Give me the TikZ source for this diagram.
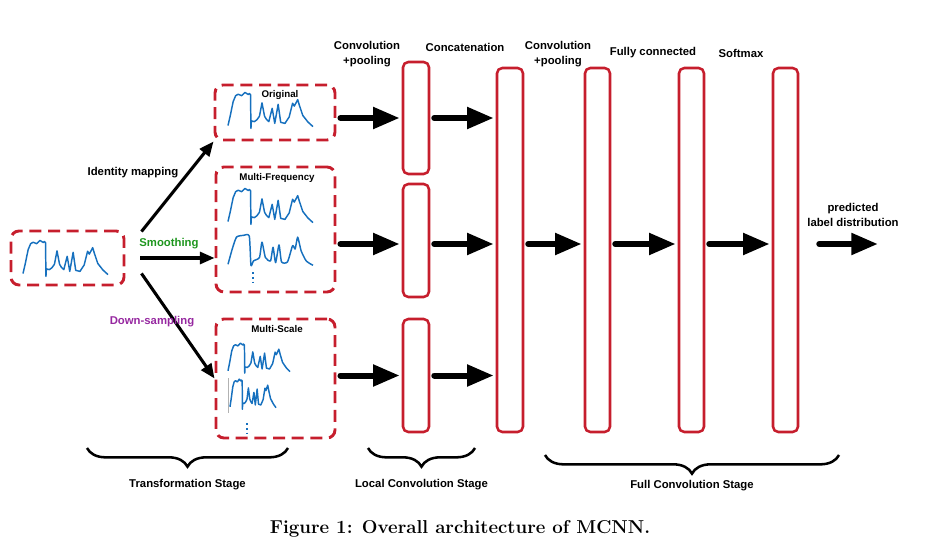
\documentclass[tikz,border=0pt]{standalone}
\usepackage{fontspec}
\setsansfont{Liberation Sans}
\usetikzlibrary{arrows.meta, positioning, fit, calc, decorations.pathreplacing}

\definecolor{boxred}{RGB}{198,30,45}
\definecolor{waveblue}{RGB}{22,112,190}
\definecolor{smoothgreen}{RGB}{30,150,30}
\definecolor{downpurple}{RGB}{150,40,160}

\tikzset{
  dashbox/.style={draw=boxred, line width=2.2pt, dash pattern=on 9pt off 5pt, rounded corners=6pt, inner sep=0pt},
  layer/.style={draw=boxred, line width=1.9pt, rounded corners=4pt, inner sep=0pt},
  wave/.style={draw=waveblue, line width=1.1pt, line join=round},
  flow/.style={line width=4.5pt, line cap=round, shorten <=3pt, shorten >=1.5pt, -{Triangle[length=20pt,width=15.5pt]}},
  branch/.style={line width=2.3pt, -{Triangle[length=11pt,width=9pt]}},
  lbl/.style={font=\sffamily\bfseries\fontsize{8.5}{11}\selectfont, align=center, inner sep=0.75pt},
  boxlbl/.style={font=\sffamily\bfseries\fontsize{7.3}{9}\selectfont, inner sep=0.75pt},
  stagebrace/.style={decorate, decoration={brace, mirror, amplitude=14pt}, line width=1.9pt}
}

% raw signal: x, y of the bottom left, width, height
\newcommand{\rawwave}[4]{%
  \begin{scope}[shift={(#1,#2)}, xscale=#3, yscale=-#4]
    \draw[wave] (0,0.04) -- (0.03,0.35) -- (0.06,0.7) -- (0.09,0.87) -- (0.12,0.91) -- (0.16,0.87) -- (0.2,0.96) -- (0.24,0.9) -- (0.25,0.93) -- (0.265,0.9) -- (0.27,-0.04) -- (0.275,0.17) -- (0.31,0.15) -- (0.34,0.2) -- (0.37,0.3) -- (0.4,0.67) -- (0.43,0.3) -- (0.45,0.22) -- (0.48,0.15) -- (0.52,0.52) -- (0.55,0.1) -- (0.59,0.63) -- (0.62,0.13) -- (0.67,0.1) -- (0.72,0.28) -- (0.76,0.66) -- (0.78,0.58) -- (0.82,0.76) -- (0.84,0.6) -- (0.88,0.32) -- (0.94,0.14) -- (1,0.01) ;
  \end{scope}}
% smoothed signal
\newcommand{\smoothwave}[4]{%
  \begin{scope}[shift={(#1,#2)}, xscale=#3, yscale=-#4]
    \draw[wave] plot[smooth, tension=0.35] coordinates {(0,0.05) (0.05,0.5) (0.1,0.85) (0.18,0.9) (0.25,0.88) (0.27,0.02) (0.3,0.15) (0.37,0.25) (0.4,0.7) (0.44,0.25) (0.5,0.15) (0.53,0.55) (0.56,0.1) (0.6,0.62) (0.63,0.12) (0.7,0.12) (0.76,0.6) (0.79,0.5) (0.82,0.85) (0.86,0.45) (0.92,0.15) (1,0.02)} ;
  \end{scope}}

\begin{document}
\begin{tikzpicture}[x=0.75pt,y=0.75pt,yscale=-1,xscale=1]
\path[use as bounding box] (0,0) rectangle (925,549);

%Shape: Dashed Boxes
\node[dashbox, fit={(11,231) (124,285)}] (inp) {};
\node[dashbox, fit={(215,85) (335,140)}] (orig) {};
\node[dashbox, fit={(216,167) (335,292)}] (multifreq) {};
\node[dashbox, fit={(216,319) (335,438)}] (multiscale) {};

%Shape: Signals
\rawwave{23}{275}{85}{36}
\rawwave{228}{127}{85}{36}
\rawwave{228}{223}{85}{36}
\smoothwave{228}{266}{85}{34}
\rawwave{228}{372}{62}{30}
\rawwave{230}{408}{46}{30}
\draw[gray!60, line width=0.5pt] (228.5,378) -- (228.5,413) ;
\draw[wave, line width=1.4pt, dash pattern=on 1.4pt off 2.2pt] (253,272) -- (253,284) ;
\draw[wave, line width=1.4pt, dash pattern=on 1.4pt off 2.2pt] (247,423) -- (247,435) ;

%Shape: Layers
\node[layer, fit={(403,62) (429,174)}] (conv1) {};
\node[layer, fit={(403,184) (429,297)}] (conv2) {};
\node[layer, fit={(403,319) (429,432)}] (conv3) {};
\node[layer, fit={(497,68) (523,432)}] (concat) {};
\node[layer, fit={(585,68) (610,432)}] (pool) {};
\node[layer, fit={(679,68) (704,432)}] (fc) {};
\node[layer, fit={(773,68) (798,432)}] (softmax) {};
\coordinate (out) at (880,244);

%Straight Lines
\draw[branch] ($(inp.north east)+(16,2)$) -- (orig.south west) ;
\draw[branch, shorten <=11pt] (inp.east) -- (inp.east -| multifreq.west) ;
\draw[branch] ($(inp.south east)+(16,-13)$) -- (multiscale.west) ;

\draw[flow] (orig.east |- conv1) -- (conv1.west) ;
\draw[flow] (conv1.east) -- (concat.west |- conv1) ;
\draw[flow] (multifreq.east |- out) -- (conv2.west |- out) ;
\draw[flow] (conv2.east |- out) -- (concat.west |- out) ;
\draw[flow] (multiscale.east |- conv3) -- (conv3.west) ;
\draw[flow] (conv3.east) -- (concat.west |- conv3) ;
\draw[flow] (concat.east |- out) -- (pool.west |- out) ;
\draw[flow] (pool.east |- out) -- (fc.west |- out) ;
\draw[flow] (fc.east |- out) -- (softmax.west |- out) ;
\draw[flow, shorten <=15pt] (softmax.east |- out) -- (out) ;

%Braces
\draw[stagebrace] (87,448) -- (288,448) node[midway, below=22pt, lbl] (transstage) {Transformation Stage};
\draw[stagebrace] (368,448) -- (475,448) node[midway, below=22pt, lbl] (localstage) {Local Convolution Stage};
\draw[stagebrace] (545,455) -- (839,455) node[midway, below=17pt, lbl] (fullstage) {Full Convolution Stage};

% Text Node
\node[boxlbl] (origlbl) at (280,95) {Original};
\node[boxlbl] (freqlbl) at (277,178) {Multi-Frequency};
\node[boxlbl] (scalelbl) at (277,329) {Multi-Scale};
\node[lbl] (identlbl) at (133,173) {Identity mapping};
\node[lbl, text=smoothgreen] (smoothlbl) at (169,244) {Smoothing};
\node[lbl, text=downpurple] (downlbl) at (152,322) {Down-sampling};
\node[lbl] (conv1lbl) at (367,54) {Convolution\\+pooling};
\node[lbl] (concatlbl) at (465,47) {Concatenation};
\node[lbl] (pool1lbl) at (558,54) {Convolution\\+pooling};
\node[lbl] (fclbl) at (653,53) {Fully connected};
\node[lbl] (softlbl) at (741,53) {Softmax};
\node[lbl] (outlbl) at (853,215) {predicted\\label distribution};
\node[font=\bfseries\fontsize{14}{16}\selectfont] (caption) at (460,529) {Figure 1: Overall architecture of MCNN.};

\end{tikzpicture}
\end{document}
